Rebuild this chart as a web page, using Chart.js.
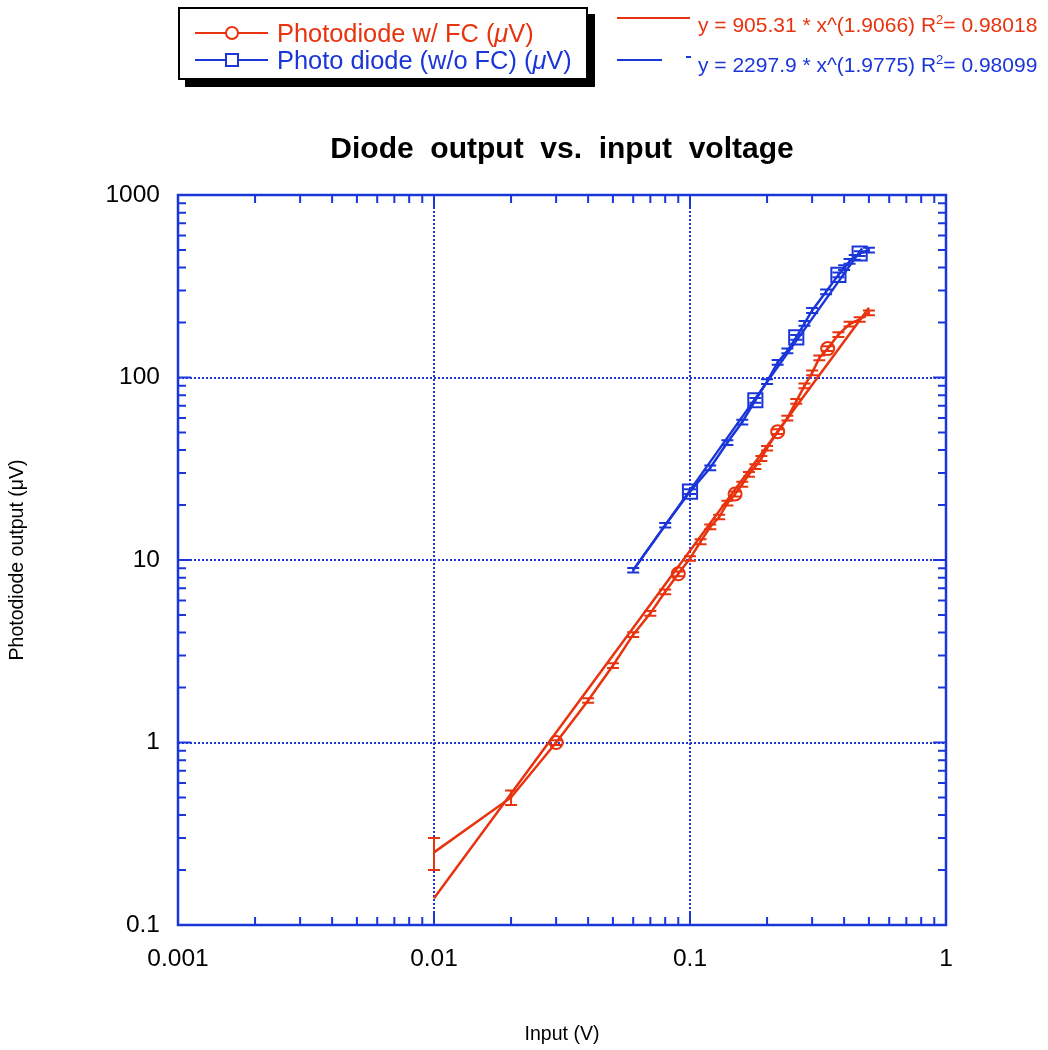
<!DOCTYPE html>
<html>
<head>
<meta charset="utf-8">
<script src="https://cdn.jsdelivr.net/npm/chart.js@4.4.0/dist/chart.umd.min.js"></script>
<style>
body { margin: 0; background: #fff; }
#wrap { position: relative; width: 1048px; height: 1050px; font-family: "Liberation Sans", Arial, sans-serif; }
#legenda { position: absolute; left: 178px; top: 7px; width: 406px; height: 69px; border: 2px solid #000; background: #fff; box-shadow: 7px 7px 0 #000; }
.row { position: absolute; left: 0; height: 28px; white-space: nowrap; }
.row svg { position: absolute; left: 15px; top: 0; }
.row span { position: absolute; left: 97px; top: 0; line-height: 28px; font-size: 25.4px; }
.fit { position: absolute; left: 617px; white-space: nowrap; font-size: 21px; }
.fit span { position: absolute; left: 81px; line-height: 24px; }
sup { font-size: 13px; vertical-align: 8px; line-height: 0; }
</style>
</head>
<body>
<div id="wrap">
  <canvas id="grafico" width="1048" height="1050"></canvas>
  <div id="legenda">
    <div class="row" style="top:10px">
      <svg width="80" height="28"><line x1="0" y1="14" x2="73" y2="14" stroke="#e8330f" stroke-width="2"/><circle cx="37" cy="14" r="6" fill="#fff" stroke="#e8330f" stroke-width="2"/></svg>
      <span style="color:#e8330f">Photodiode w/ FC (<i>μ</i>V)</span>
    </div>
    <div class="row" style="top:37px">
      <svg width="80" height="28"><line x1="0" y1="14" x2="73" y2="14" stroke="#1a36d9" stroke-width="2"/><rect x="31" y="8" width="12" height="12" fill="#fff" stroke="#1a36d9" stroke-width="2"/></svg>
      <span style="color:#1a36d9">Photo diode (w/o FC) (<i>μ</i>V)</span>
    </div>
  </div>
  <div class="fit" style="top:6px">
    <svg width="80" height="24" style="position:absolute;left:0;top:0"><line x1="0" y1="12" x2="73" y2="12" stroke="#e8330f" stroke-width="2"/></svg>
    <span style="color:#e8330f;top:7px">y = 905.31 * x^(1.9066) R<sup>2</sup>= 0.98018</span>
  </div>
  <div class="fit" style="top:48px">
    <svg width="80" height="24" style="position:absolute;left:0;top:0"><line x1="0" y1="12" x2="45" y2="12" stroke="#1a36d9" stroke-width="2"/><line x1="69" y1="9" x2="74" y2="9" stroke="#1a36d9" stroke-width="2"/></svg>
    <span style="color:#1a36d9;top:5px">y = 2297.9 * x^(1.9775) R<sup>2</sup>= 0.98099</span>
  </div>
</div>
<script>
const vermelho = '#e8330f';
const azul = '#1a36d9';
const titulo = 'Diode  output  vs.  input  voltage';

// Photodiode w/ FC
const redX = [0.01, 0.02, 0.03, 0.04, 0.05, 0.06, 0.07, 0.08, 0.09, 0.10, 0.11, 0.12, 0.13, 0.14, 0.15, 0.16, 0.17, 0.18, 0.19, 0.20, 0.22, 0.24, 0.26, 0.28, 0.30, 0.32, 0.345, 0.38, 0.42, 0.46, 0.50];
const redY = [0.25, 0.50, 1.0, 1.7, 2.64, 3.9, 5.1, 6.7, 8.4, 10.2, 12.6, 15.2, 17.2, 20.5, 23, 26, 29.5, 32.5, 36, 41, 50.5, 60, 74, 90, 106, 128, 144, 172, 196, 208, 226];
const redErr = [0.05, 0.045, 0.03, 0.05, 0.08, 0.12, 0.15, 0.2, 0.25, 0.3, 0.4, 0.45, 0.5, 0.6, 0.7, 0.8, 0.9, 1.0, 1.1, 1.2, 1.5, 1.8, 2.2, 2.7, 3.2, 3.8, 4.3, 5.2, 5.9, 6.2, 6.8];

// Photo diode (w/o FC)
const blueX = [0.06, 0.08, 0.10, 0.12, 0.14, 0.16, 0.18, 0.20, 0.22, 0.24, 0.26, 0.28, 0.30, 0.34, 0.38, 0.40, 0.42, 0.44, 0.46, 0.50];
const blueY = [8.8, 15.5, 23.7, 32, 44, 57, 75, 95, 121, 140, 166, 198, 233, 295, 365, 400, 433, 455, 478, 499];
const blueErr = [0.25, 0.45, 0.7, 0.95, 1.3, 1.7, 2.2, 2.8, 3.6, 4.2, 5, 6, 7, 9, 11, 12, 13, 13.6, 14.3, 15];

// curvas de ajuste (pontos finais)
const redFitX = [0.01, 0.5];
const redFitY = [0.14, 241];
const blueFitX = [0.06, 0.47];
const blueFitY = [8.8, 510];

const xTicks = [0.001, 0.01, 0.1, 1];
const xTickLabels = ['0.001', '0.01', '0.1', '1'];
const yTicks = [0.1, 1, 10, 100, 1000];
const yTickLabels = ['0.1', '1', '10', '100', '1000'];

function pontos(xs, ys) {
    return xs.map((v, i) => ({x: v, y: ys[i]}));
}

const fonte = "'Liberation Sans', Arial, sans-serif";

// desenha titulo, grade pontilhada, moldura, marcas e barras de erro
const molduraPlugin = {
    id: 'moldura',
    beforeDatasetsDraw(chart) {
        const {ctx, chartArea: {left, right, top, bottom}, scales: {x, y}} = chart;
        ctx.save();
        ctx.fillStyle = '#000';
        ctx.font = `bold 30px ${fonte}`;
        ctx.textAlign = 'center';
        ctx.textBaseline = 'middle';
        ctx.fillText(titulo, (left + right) / 2, 150);

        ctx.strokeStyle = azul;
        ctx.lineWidth = 2;
        ctx.setLineDash([2, 2]);
        xTicks.slice(1, -1).forEach(v => {
            const px = Math.round(x.getPixelForValue(v));
            ctx.beginPath(); ctx.moveTo(px, top); ctx.lineTo(px, bottom); ctx.stroke();
        });
        yTicks.slice(1, -1).forEach(v => {
            const py = Math.round(y.getPixelForValue(v));
            ctx.beginPath(); ctx.moveTo(left, py); ctx.lineTo(right, py); ctx.stroke();
        });
        ctx.restore();
    },
    afterDatasetsDraw(chart) {
        const {ctx, chartArea: {left, right, top, bottom}, scales: {x, y}} = chart;
        ctx.save();
        // barras de erro
        chart.data.datasets.forEach(ds => {
            if (!ds.erros) return;
            ctx.strokeStyle = ds.borderColor;
            ctx.lineWidth = 2;
            ds.data.forEach((p, i) => {
                const e = ds.erros[i];
                const px = x.getPixelForValue(p.x);
                const y1 = y.getPixelForValue(p.y - e);
                const y2 = y.getPixelForValue(p.y + e);
                ctx.beginPath();
                ctx.moveTo(px, y1); ctx.lineTo(px, y2);
                ctx.moveTo(px - 6, y1); ctx.lineTo(px + 6, y1);
                ctx.moveTo(px - 6, y2); ctx.lineTo(px + 6, y2);
                ctx.stroke();
            });
        });
        // moldura
        ctx.strokeStyle = azul;
        ctx.lineWidth = 2.5;
        ctx.strokeRect(left, top, right - left, bottom - top);
        // marcas para dentro
        ctx.lineWidth = 2;
        ctx.beginPath();
        for (let d = 0; d < xTicks.length; d++) {
            for (let k = 1; k <= 9; k++) {
                const v = xTicks[d] * k;
                if (v > xTicks[xTicks.length - 1] + 1e-9) break;
                const len = k === 1 ? 13 : 8;
                const px = x.getPixelForValue(v);
                ctx.moveTo(px, bottom); ctx.lineTo(px, bottom - len);
                ctx.moveTo(px, top); ctx.lineTo(px, top + len);
            }
        }
        for (let d = 0; d < yTicks.length; d++) {
            for (let k = 1; k <= 9; k++) {
                const v = yTicks[d] * k;
                if (v > yTicks[yTicks.length - 1] + 1e-9) break;
                const len = k === 1 ? 13 : 8;
                const py = y.getPixelForValue(v);
                ctx.moveTo(left, py); ctx.lineTo(left + len, py);
                ctx.moveTo(right, py); ctx.lineTo(right - len, py);
            }
        }
        ctx.stroke();
        ctx.restore();
    }
};

const config = {
    type: 'line',
    data: {
        datasets: [
            {
                label: 'Photodiode w/ FC (μV)',
                data: pontos(redX, redY),
                erros: redErr,
                borderColor: vermelho,
                borderWidth: 2.5,
                backgroundColor: 'transparent',
                pointStyle: 'circle',
                pointRadius: c => (c.dataIndex % 6 === 2 ? 6.5 : 0),
                pointBorderWidth: 2,
                pointBorderColor: vermelho,
                pointBackgroundColor: 'transparent'
            },
            {
                label: 'Photo diode (w/o FC) (μV)',
                data: pontos(blueX, blueY),
                erros: blueErr,
                borderColor: azul,
                borderWidth: 2.5,
                backgroundColor: 'transparent',
                pointStyle: 'rect',
                pointRadius: c => (c.dataIndex % 4 === 2 ? 10 : 0),
                pointBorderWidth: 2,
                pointBorderColor: azul,
                pointBackgroundColor: 'transparent'
            },
            {
                label: 'y = 905.31 * x^(1.9066)',
                data: pontos(redFitX, redFitY),
                borderColor: vermelho,
                borderWidth: 2.5,
                pointRadius: 0
            },
            {
                label: 'y = 2297.9 * x^(1.9775)',
                data: pontos(blueFitX, blueFitY),
                borderColor: azul,
                borderWidth: 2.5,
                pointRadius: 0
            }
        ]
    },
    options: {
        responsive: false,
        animation: false,
        layout: { padding: { left: 0, right: 102, top: 195, bottom: 0 } },
        plugins: {
            legend: { display: false },
            tooltip: { enabled: false },
            title: { display: false }
        },
        scales: {
            x: {
                type: 'logarithmic',
                min: 0.001,
                max: 1,
                grid: { display: false, drawTicks: false },
                border: { display: false },
                afterBuildTicks: s => { s.ticks = xTicks.map(v => ({ value: v })); },
                afterFit: s => { s.height = 125; },
                ticks: {
                    callback: (v, i) => xTickLabels[i],
                    color: '#000',
                    font: { family: fonte, size: 24.5 },
                    padding: 20,
                    maxRotation: 0,
                    autoSkip: false
                },
                title: {
                    display: true,
                    text: 'Input (V)',
                    color: '#000',
                    font: { family: fonte, size: 19.5 },
                    padding: { top: 0, bottom: 4 }
                }
            },
            y: {
                type: 'logarithmic',
                min: 0.1,
                max: 1000,
                grid: { display: false, drawTicks: false },
                border: { display: false },
                afterBuildTicks: s => { s.ticks = yTicks.map(v => ({ value: v })); },
                afterFit: s => { s.width = 178; },
                ticks: {
                    callback: (v, i) => yTickLabels[i],
                    color: '#000',
                    font: { family: fonte, size: 24.5 },
                    padding: 18,
                    autoSkip: false
                },
                title: {
                    display: true,
                    text: 'Photodiode output (μV)',
                    color: '#000',
                    font: { family: fonte, size: 19.5 },
                    padding: { top: 6, bottom: 0 }
                }
            }
        }
    },
    plugins: [molduraPlugin]
};

const grafico = new Chart(document.getElementById('grafico'), config);
</script>
</body>
</html>
